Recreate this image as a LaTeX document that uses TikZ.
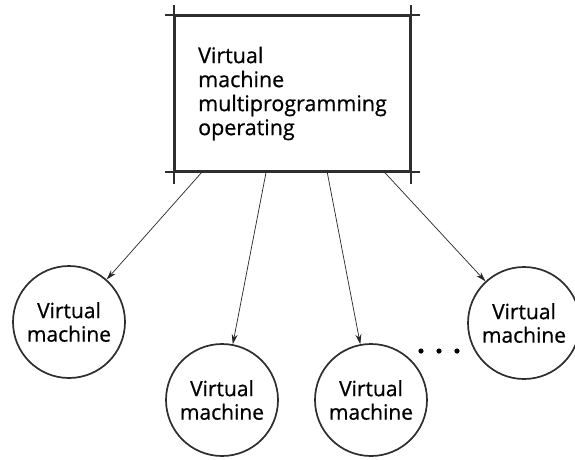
\documentclass[tikz,border=0pt]{standalone}
\usepackage{fontspec}
\setmainfont{Open Sans}
\newfontfamily\vmfont{Open Sans}[FakeBold=0.6]
\usetikzlibrary{arrows.meta,calc}
\begin{document}
\begin{tikzpicture}[x=1pt,y=-1pt,
  boxline/.style={line width=1.7pt, draw=black!82},
  vm/.style={circle, draw=black!82, line width=1.7pt, minimum size=112pt, inner sep=0pt, align=center, font=\vmfont\fontsize{21}{23.5}\selectfont},
  arr/.style={line width=0.7pt, draw=black!85, -{Stealth[length=10pt,width=6pt]}}]
\useasboundingbox[fill=white] (0,0) rectangle (575,459);
\node[boxline, draw, rectangle, minimum width=235pt, minimum height=155pt, inner sep=0pt, align=left, font=\vmfont\fontsize{21.5}{24}\selectfont] (box) at (292.5,93.5) {Virtual\\machine\\multiprogramming\\operating};
% corner extensions of the box edges
\draw[boxline] ([xshift=-9pt]box.north west) -- ([xshift=9pt]box.north east);
\draw[boxline] ([xshift=-9pt]box.south west) -- ([xshift=9pt]box.south east);
\draw[boxline] ([yshift=10pt]box.north west) -- ([yshift=-12pt]box.south west);
\draw[boxline] ([yshift=10pt]box.north east) -- ([yshift=-12pt]box.south east);
\node[vm] (c1) at (69,322) {Virtual\\machine};
\node[vm] (c2) at (222,400) {Virtual\\machine};
\node[vm] (c3) at (371,400) {Virtual\\machine};
\node[vm] (c4) at (524,323) {Virtual\\machine};
\coordinate (s1) at ($(box.south west)+(28,0)$);
\coordinate (s2) at ($(box.south west)+(92,0)$);
\coordinate (s3) at ($(box.south west)+(153,0)$);
\coordinate (s4) at ($(box.south west)+(210,0)$);
\draw[arr] (s1) -- (c1);
\draw[arr] (s2) -- (c2);
\draw[arr] (s3) -- (c3);
\draw[arr] (s4) -- (c4);
\fill[black] (421,351) circle[radius=2.6pt];
\fill[black] (439,351) circle[radius=2.6pt];
\fill[black] (457,351) circle[radius=2.6pt];
\end{tikzpicture}
\end{document}
